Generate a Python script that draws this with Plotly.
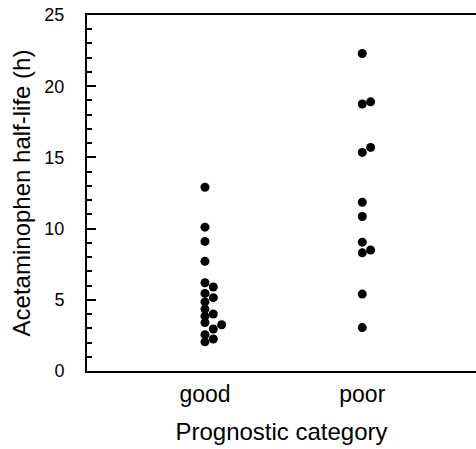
import plotly.graph_objects as go

# Acetaminophen half-life (h) by prognostic category
categories = ["good", "poor"]

good_halflife = [12.9, 10.1, 9.1, 7.7, 6.2, 5.9, 5.45, 5.15, 4.85, 4.35,
                 4.0, 3.85, 3.4, 3.25, 2.95, 2.55, 2.25, 2.05]
good_column = [0, 0, 0, 0, 0, 1, 0, 1, 0, 0, 1, 0, 0, 2, 1, 0, 1, 0]

poor_halflife = [22.3, 18.75, 18.9, 15.35, 15.7, 11.85, 10.85, 9.05, 8.3, 8.5, 5.4, 3.05]
poor_column = [0, 0, 1, 0, 1, 0, 0, 0, 0, 1, 0, 0]

y_ticks = [0, 5, 10, 15, 20, 25]

# horizontal spacing between side-by-side dots (category units)
DOT_STEP = 0.053

fig = go.Figure()
for i, (vals, cols) in enumerate([(good_halflife, good_column),
                                  (poor_halflife, poor_column)]):
    xs = [i + 1 + c * DOT_STEP for c in cols]
    fig.add_trace(go.Scatter(
        x=xs, y=vals, mode="markers",
        marker=dict(color="black", size=9, line=dict(width=0)),
        showlegend=False, hoverinfo="y",
    ))

font = dict(family="Liberation Sans, Arial, sans-serif", color="black")

fig.update_layout(
    width=476, height=449,
    margin=dict(l=87, r=0, t=15, b=78),
    paper_bgcolor="white", plot_bgcolor="white",
    font=dict(size=23, **font),
    xaxis=dict(
        range=[0.25, 2.723],
        tickmode="array", tickvals=[1, 2], ticktext=categories,
        ticks="", showgrid=False, zeroline=False,
        showline=True, linecolor="black", linewidth=2, mirror=True,
        tickfont=dict(size=23, **font), ticklabelstandoff=1,
        title=dict(text="Prognostic category", font=dict(size=24, **font), standoff=18),
    ),
    yaxis=dict(
        range=[0, 25],
        tickmode="array", tickvals=y_ticks,
        ticks="inside", ticklen=9, tickwidth=2, tickcolor="black",
        minor=dict(ticks="inside", ticklen=5, tickwidth=1.5, tickcolor="black", dtick=1, showgrid=False),
        showgrid=False, zeroline=False,
        showline=True, linecolor="black", linewidth=2, mirror=False,
        tickfont=dict(size=18, **font), ticklabelstandoff=17,
        title=dict(text="Acetaminophen half-life (h)", font=dict(size=24, **font), standoff=7),
    ),
)

fig.write_html("out.html")
